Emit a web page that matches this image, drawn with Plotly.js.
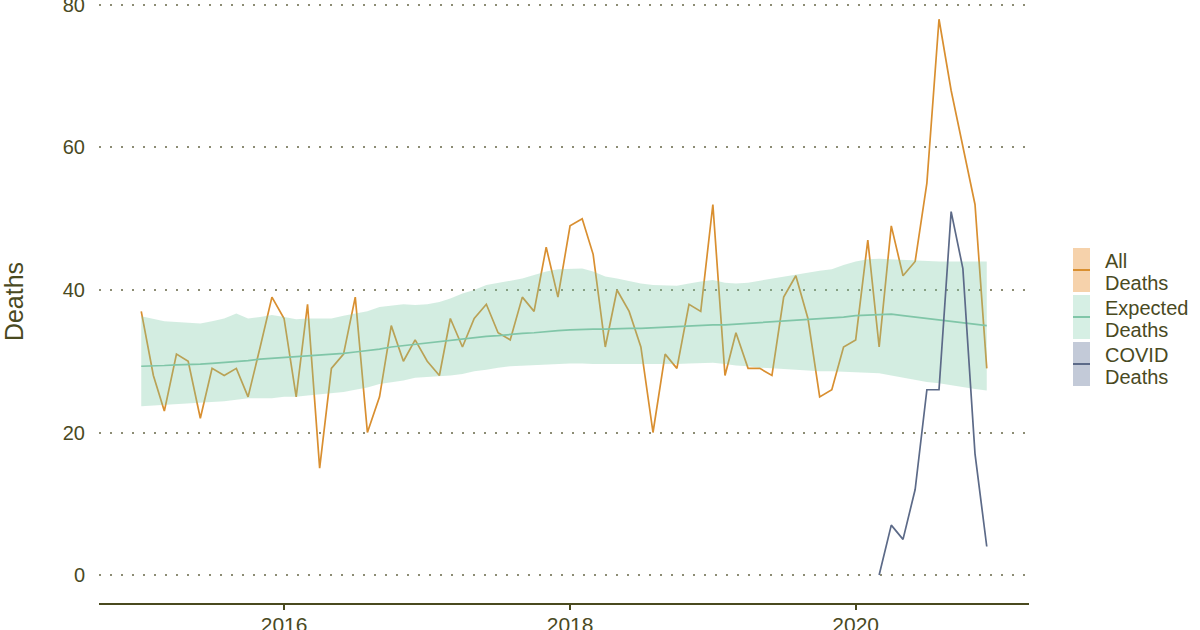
<!DOCTYPE html>
<html>
<head>
<meta charset="utf-8">
<script src="https://cdn.plot.ly/plotly-3.0.1.min.js"></script>
<style>
  html, body { margin: 0; padding: 0; background: #ffffff; }
  #chart { width: 1200px; height: 630px; }
</style>
</head>
<body>
<div id="chart"></div>
<script>
// ---- data (monthly, Jan 2015 .. Dec 2020) ----
const startYear = 2015;
const nMonths = 72;
const months = [];
for (let i = 0; i < nMonths; i++) {
  const y = startYear + Math.floor(i / 12);
  const m = (i % 12) + 1;
  months.push(y + '-' + (m < 10 ? '0' + m : m) + '-01');
}

const allDeaths = [
  37, 28, 23, 31, 30, 22, 29, 28, 29, 25, 32, 39,
  36, 25, 38, 15, 29, 31, 39, 20, 25, 35, 30, 33,
  30, 28, 36, 32, 36, 38, 34, 33, 39, 37, 46, 39,
  49, 50, 45, 32, 40, 37, 32, 20, 31, 29, 38, 37,
  52, 28, 34, 29, 29, 28, 39, 42, 36, 25, 26, 32,
  33, 47, 32, 49, 42, 44, 55, 78, 68, 60, 52, 29
];

const expectedDeaths = [
  29.3, 29.3, 29.4, 29.5, 29.5, 29.6, 29.7, 29.8, 29.9, 30.1, 30.3, 30.4,
  30.5, 30.6, 30.7, 30.8, 30.9, 31.1, 31.3, 31.5, 31.7, 32.0, 32.2, 32.3,
  32.5, 32.7, 32.9, 33.1, 33.3, 33.5, 33.6, 33.8, 33.9, 34.0, 34.2, 34.3,
  34.4, 34.5, 34.5, 34.5, 34.6, 34.6, 34.6, 34.7, 34.7, 34.8, 34.9, 35.0,
  35.1, 35.1, 35.2, 35.3, 35.4, 35.5, 35.6, 35.7, 35.8, 35.9, 36.0, 36.2,
  36.4, 36.5, 36.6, 36.6, 36.4, 36.2, 36.0, 35.8, 35.6, 35.4, 35.2, 35.0
];

const expectedUpper = [
  36.3, 35.9, 35.6, 35.5, 35.4, 35.3, 35.6, 36.0, 36.7, 36.0, 36.2, 36.5,
  36.2, 35.9, 36.0, 36.0, 36.0, 36.4, 36.7, 37.0, 37.6, 37.8, 38.0, 37.9,
  38.0, 38.3, 38.8, 39.5, 40.0, 40.7, 41.0, 41.3, 41.6, 42.1, 42.6, 42.9,
  43.0, 43.0, 42.6, 41.9, 41.6, 41.2, 40.9, 40.7, 40.6, 40.6, 40.9, 41.2,
  41.4, 41.0, 40.9, 41.0, 41.3, 41.6, 41.9, 42.2, 42.5, 42.7, 42.9, 43.5,
  44.0, 44.3, 44.4, 44.3, 44.2, 44.1, 44.1, 44.0, 44.0, 44.0, 44.1, 44.0
];

const expectedLower = [
  23.7, 23.8, 23.9, 24.0, 24.1, 24.1, 24.3, 24.4, 24.6, 24.8, 24.8, 24.8,
  25.0, 25.0, 25.2, 25.4, 25.5, 25.7, 26.0, 26.3, 26.8, 27.0, 27.3, 27.7,
  27.8, 27.9, 28.0, 28.2, 28.6, 28.8, 29.1, 29.3, 29.4, 29.5, 29.6, 29.7,
  29.7, 29.7, 29.6, 29.6, 29.6, 29.5, 29.5, 29.5, 29.5, 29.6, 29.7, 29.8,
  29.8, 29.6, 29.4, 29.3, 29.1, 29.0, 28.9, 28.8, 28.7, 28.6, 28.6, 28.5,
  28.4, 28.3, 28.3, 28.0, 27.7, 27.4, 27.1, 26.9, 26.6, 26.3, 26.1, 25.9
];

const covidMonths = ['2020-03-01', '2020-04-01', '2020-05-01', '2020-06-01', '2020-07-01',
                     '2020-08-01', '2020-09-01', '2020-10-01', '2020-11-01', '2020-12-01'];
const covidDeaths = [0, 7, 5, 12, 26, 26, 51, 43, 17, 4];

const legendLine1 = ['All', 'Expected', 'COVID'];
const legendLine2 = ['Deaths', 'Deaths', 'Deaths'];

// ---- styles ----
const olive = '#4a4a1f';
const colAll = '#d98f30';
const colExp = '#80c6a8';
const colCovid = '#5c6a88';
const bandFill = 'rgba(120,200,165,0.33)';
const keyFills = ['#f6d2ab', '#d6efe4', '#c3cad8'];
const keyLines = ['#d98f30', '#80c6a8', '#5c6a88'];
const font = 'Liberation Sans, Arial, Helvetica, sans-serif';

const traces = [
  { x: months, y: allDeaths, type: 'scatter', mode: 'lines',
    line: { color: colAll, width: 1.7 }, name: 'All Deaths' },
  { x: months, y: expectedUpper, type: 'scatter', mode: 'lines',
    line: { width: 0, color: 'rgba(0,0,0,0)' }, hoverinfo: 'skip', showlegend: false },
  { x: months, y: expectedLower, type: 'scatter', mode: 'lines', fill: 'tonexty',
    fillcolor: bandFill, line: { width: 0, color: 'rgba(0,0,0,0)' }, hoverinfo: 'skip', showlegend: false },
  { x: months, y: expectedDeaths, type: 'scatter', mode: 'lines',
    line: { color: colExp, width: 1.7 }, name: 'Expected Deaths' },
  { x: covidMonths, y: covidDeaths, type: 'scatter', mode: 'lines',
    line: { color: colCovid, width: 1.7 }, name: 'COVID Deaths' }
];

// ---- layout geometry (pixels) ----
const W = 1200, H = 630;
const mL = 99, mR = 171, mT = 0, mB = 27;
const plotW = W - mL - mR, plotH = H - mT - mB;
const px2paperX = (px) => (px - mL) / plotW;
const px2paperY = (py) => (H - mB - py) / plotH;

const shapes = [];
const annotations = [];
const keyTops = [248, 295, 342];
const keyH = 44;
for (let k = 0; k < 3; k++) {
  const top = keyTops[k];
  shapes.push({ type: 'rect', xref: 'paper', yref: 'paper',
    x0: px2paperX(1073), x1: px2paperX(1090),
    y0: px2paperY(top + keyH), y1: px2paperY(top),
    fillcolor: keyFills[k], line: { width: 0 }, layer: 'above' });
  shapes.push({ type: 'line', xref: 'paper', yref: 'paper',
    x0: px2paperX(1073), x1: px2paperX(1090),
    y0: px2paperY(top + keyH / 2), y1: px2paperY(top + keyH / 2),
    line: { color: keyLines[k], width: 2 }, layer: 'above' });
  annotations.push({ xref: 'paper', yref: 'paper',
    x: px2paperX(1103), y: px2paperY(top + 13),
    xanchor: 'left', yanchor: 'middle', align: 'left', showarrow: false,
    text: legendLine1[k], font: { family: font, size: 20, color: olive } });
  annotations.push({ xref: 'paper', yref: 'paper',
    x: px2paperX(1103), y: px2paperY(top + 35),
    xanchor: 'left', yanchor: 'middle', align: 'left', showarrow: false,
    text: legendLine2[k], font: { family: font, size: 20, color: olive } });
}

const layout = {
  width: W, height: H,
  margin: { l: mL, r: mR, t: mT, b: mB, pad: 0 },
  paper_bgcolor: '#ffffff', plot_bgcolor: '#ffffff',
  showlegend: false,
  font: { family: font, color: olive, size: 20 },
  xaxis: {
    type: 'date',
    range: ['2014-09-15', '2021-03-19'],
    tick0: '2016-01-01', dtick: 'M24', tickformat: '%Y',
    showgrid: false, zeroline: false,
    showline: true, linecolor: olive, linewidth: 2,
    ticks: 'outside', ticklen: 5, tickwidth: 2, tickcolor: olive,
    ticklabelstandoff: -3,
    ticklabeloverflow: 'allow',
    tickfont: { family: font, size: 21, color: olive }
  },
  yaxis: {
    range: [-3.93, 80.7],
    tickvals: [0, 20, 40, 60, 80],
    showgrid: true, gridcolor: '#8c8c74', gridwidth: 2, griddash: '2px,9px',
    zeroline: false, showline: false, ticks: '',
    ticklabelstandoff: 13,
    ticklabeloverflow: 'allow',
    tickfont: { family: font, size: 20, color: olive },
    title: { text: 'Deaths', font: { family: font, size: 25, color: olive }, standoff: 36 }
  },
  shapes: shapes,
  annotations: annotations
};

Plotly.newPlot('chart', traces, layout, { displayModeBar: false, staticPlot: true });
</script>
</body>
</html>
